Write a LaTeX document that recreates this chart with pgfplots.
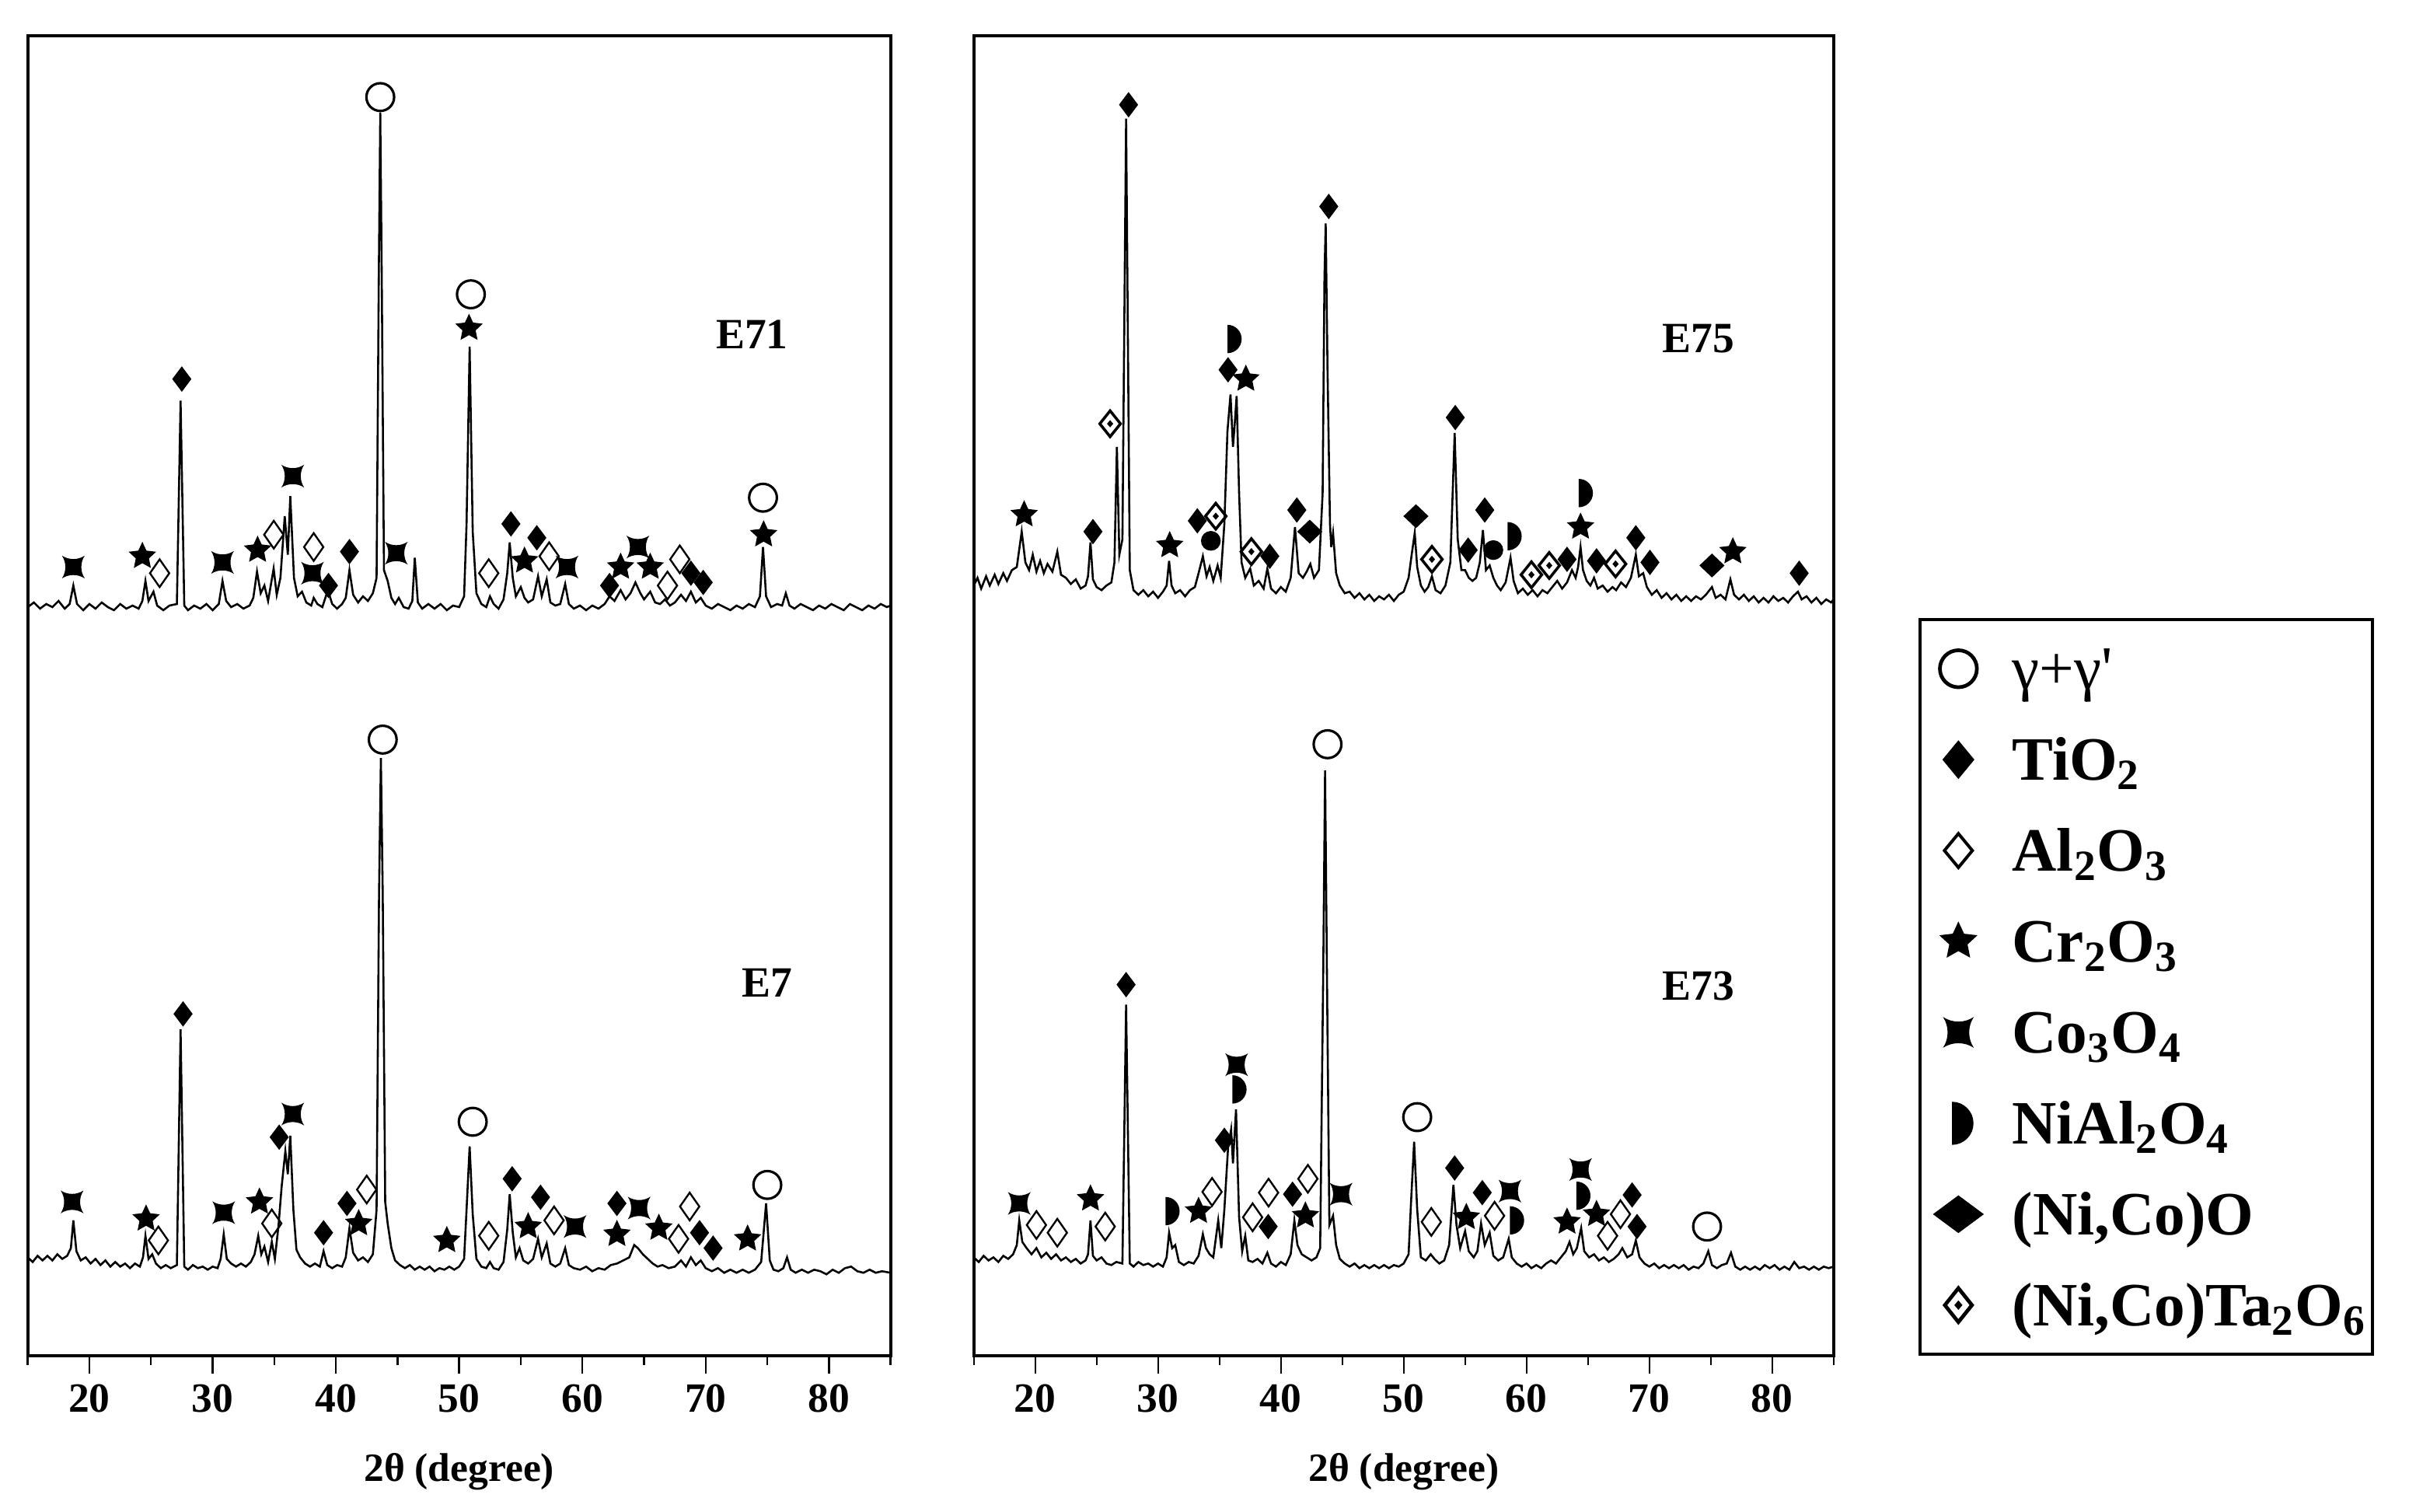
\documentclass[border=0pt]{standalone}
\usepackage{fontspec}
\setmainfont{Liberation Serif}
\usepackage{pgfplots}
\pgfplotsset{compat=1.18}

% filled five-point star
\pgfdeclareplotmark{fstar}{%
  \pgfpathmoveto{\pgfpointpolar{90}{\pgfplotmarksize}}%
  \pgfpathlineto{\pgfpointpolar{126}{0.48\pgfplotmarksize}}%
  \pgfpathlineto{\pgfpointpolar{162}{\pgfplotmarksize}}%
  \pgfpathlineto{\pgfpointpolar{198}{0.48\pgfplotmarksize}}%
  \pgfpathlineto{\pgfpointpolar{234}{\pgfplotmarksize}}%
  \pgfpathlineto{\pgfpointpolar{270}{0.48\pgfplotmarksize}}%
  \pgfpathlineto{\pgfpointpolar{306}{\pgfplotmarksize}}%
  \pgfpathlineto{\pgfpointpolar{342}{0.48\pgfplotmarksize}}%
  \pgfpathlineto{\pgfpointpolar{18}{\pgfplotmarksize}}%
  \pgfpathlineto{\pgfpointpolar{54}{0.48\pgfplotmarksize}}%
  \pgfpathclose\pgfusepathqfill}
% square with concave sides (Co3O4)
\pgfdeclareplotmark{coxo}{%
  \pgfpathmoveto{\pgfqpoint{-\pgfplotmarksize}{\pgfplotmarksize}}%
  \pgfpathcurveto{\pgfqpoint{-.4\pgfplotmarksize}{.6\pgfplotmarksize}}{\pgfqpoint{.4\pgfplotmarksize}{.6\pgfplotmarksize}}{\pgfqpoint{\pgfplotmarksize}{\pgfplotmarksize}}%
  \pgfpathcurveto{\pgfqpoint{.6\pgfplotmarksize}{.4\pgfplotmarksize}}{\pgfqpoint{.6\pgfplotmarksize}{-.4\pgfplotmarksize}}{\pgfqpoint{\pgfplotmarksize}{-\pgfplotmarksize}}%
  \pgfpathcurveto{\pgfqpoint{.4\pgfplotmarksize}{-.6\pgfplotmarksize}}{\pgfqpoint{-.4\pgfplotmarksize}{-.6\pgfplotmarksize}}{\pgfqpoint{-\pgfplotmarksize}{-\pgfplotmarksize}}%
  \pgfpathcurveto{\pgfqpoint{-.6\pgfplotmarksize}{-.4\pgfplotmarksize}}{\pgfqpoint{-.6\pgfplotmarksize}{.4\pgfplotmarksize}}{\pgfqpoint{-\pgfplotmarksize}{\pgfplotmarksize}}%
  \pgfpathclose\pgfusepathqfill}
% half disc (NiAl2O4)
\pgfdeclareplotmark{dhalf}{%
  \pgfpathmoveto{\pgfqpoint{-.3\pgfplotmarksize}{-\pgfplotmarksize}}%
  \pgfpatharc{-90}{90}{\pgfplotmarksize}%
  \pgfpathclose\pgfusepathqfill}
% diamond with a dot ((Ni,Co)Ta2O6)
\pgfdeclareplotmark{tado}{%
  \pgfpathmoveto{\pgfqpoint{0pt}{\pgfplotmarksize}}%
  \pgfpathlineto{\pgfqpoint{.8\pgfplotmarksize}{0pt}}%
  \pgfpathlineto{\pgfqpoint{0pt}{-\pgfplotmarksize}}%
  \pgfpathlineto{\pgfqpoint{-.8\pgfplotmarksize}{0pt}}%
  \pgfpathclose\pgfusepathqstroke
  \pgfpathmoveto{\pgfqpoint{0pt}{.28\pgfplotmarksize}}%
  \pgfpathlineto{\pgfqpoint{.24\pgfplotmarksize}{0pt}}%
  \pgfpathlineto{\pgfqpoint{0pt}{-.28\pgfplotmarksize}}%
  \pgfpathlineto{\pgfqpoint{-.24\pgfplotmarksize}{0pt}}%
  \pgfpathclose\pgfusepathqfill}

\tikzset{lab/.style={font=\fontsize{14}{16}\selectfont\bfseries}}
\pgfplotsset{
  xrd/.style={
    scale only axis, height=428.5pt,
    xmin=15, xmax=85, ymin=0, ymax=857,
    axis line style={line width=1pt},
    xtick={20,30,...,80}, minor xtick={15,25,...,85},
    xtick pos=bottom, tick align=outside, ytick=\empty,
    major tick length=5.8pt, minor tick length=3pt,
    tick style={line width=0.6pt, black},
    /pgf/number format/assume math mode=true,
    xticklabel style={font=\fontsize{13.5}{16}\selectfont\bfseries},
    xlabel={2θ (degree)},
    xlabel style={font=\fontsize{13}{15}\selectfont\bfseries,
      at={(axis description cs:0.5,0)}, anchor=center, yshift=-37.5pt},
  },
  trace/.style={black, line width=0.65pt, mark=none},
  gam/.style={only marks, mark=o, mark size=4.5pt, mark options={line width=0.8pt}},
  tio/.style={only marks, mark=diamond*, mark size=3.8pt},
  alo/.style={only marks, mark=diamond, mark size=4.5pt, mark options={xscale=0.93, line width=0.6pt}},
  cro/.style={only marks, mark=fstar, mark size=4.7pt},
  coo/.style={only marks, mark=coxo, mark size=3.7pt},
  nal/.style={only marks, mark=dhalf, mark size=4.6pt},
  nco/.style={only marks, mark=diamond*, mark size=3.6pt, mark options={xscale=1.4}},
  nta/.style={only marks, mark=tado, mark size=4.2pt, mark options={line width=0.9pt}},
  dot/.style={only marks, mark=*, mark size=3pt},
}

\begin{document}
\begin{tikzpicture}
\useasboundingbox (0pt,0pt) rectangle (784pt,490.5pt);

% ---------------- left panel: E71 (top) and E7 (bottom)
\begin{axis}[xrd, width=280pt, at={(9pt,50.5pt)}, anchor=south west]
\addplot[trace] coordinates {
(15,486)(15.5,489)(16,485)(16.5,488)(17,486)(17.5,490)(18,485)(18.4,488)(18.7,500)(19,488)(19.5,484)(20,488)(20.5,485)(21,489)(21.5,486)(22,484)(22.5,488)(23,485)(23.5,487)(24,485)(24.3,490)(24.55,503)(24.8,490)(25.2,496)(25.5,487)(26,484)(26.5,487)(27.1,488)(27.4,620)(27.7,487)(28,484)(28.5,487)(29,485)(29.5,488)(30,484)(30.5,488)(30.8,503)(31.1,490)(31.5,486)(32,488)(32.5,485)(33,487)(33.3,492)(33.6,509)(33.9,495)(34.2,500)(34.5,490)(34.95,511)(35.2,494)(35.5,505)(35.85,545)(36.1,520)(36.3,558)(36.6,505)(36.9,493)(37.25,496)(37.6,489)(38,487)(38.2,492)(38.5,488)(38.9,486)(39.35,497)(39.7,488)(40.1,485)(40.5,488)(40.8,492)(41.1,510)(41.4,494)(41.8,489)(42.2,493)(42.6,490)(43,495)(43.3,505)(43.48,700)(43.6,807)(43.72,700)(43.9,510)(44.2,503)(44.5,492)(44.8,488)(45.1,492)(45.5,486)(45.9,485)(46.2,490)(46.4,518)(46.65,489)(47,485)(47.5,488)(48,485)(48.5,488)(49,484)(49.5,487)(50,486)(50.4,493)(50.6,540)(50.85,655)(51.1,535)(51.4,495)(51.8,488)(52.2,486)(52.5,493)(52.8,488)(53.2,485)(53.6,491)(53.9,508)(54.1,528)(54.35,505)(54.6,493)(55,499)(55.3,492)(55.6,489)(56,491)(56.4,506)(56.7,493)(57.1,504)(57.4,489)(57.8,487)(58.2,488)(58.6,501)(58.9,488)(59.3,485)(59.8,487)(60.3,484)(60.8,487)(61.3,485)(61.8,488)(62.2,493)(62.6,490)(63.1,497)(63.5,491)(63.9,495)(64.3,502)(64.7,495)(65,491)(65.5,496)(65.9,489)(66.3,488)(66.7,491)(67.1,487)(67.5,489)(68,494)(68.4,490)(68.8,496)(69.2,489)(69.6,492)(70,487)(70.5,485)(71,488)(71.5,486)(72,484)(72.5,487)(73,485)(73.5,488)(74,486)(74.4,493)(74.65,525)(74.9,493)(75.3,486)(75.8,488)(76.2,487)(76.5,495)(76.8,487)(77.2,485)(77.7,488)(78.2,486)(78.7,484)(79.2,487)(79.7,485)(80.2,488)(80.7,486)(81.2,484)(81.7,488)(82.2,486)(82.7,484)(83.2,487)(83.7,485)(84.2,488)(84.7,486)(85,487)};
\addplot[trace] coordinates {
(15,64)(15.4,61)(15.8,65)(16.2,62)(16.6,65)(17,62)(17.4,66)(17.8,63)(18.2,65)(18.5,70)(18.7,88)(18.95,68)(19.3,62)(19.7,64)(20.1,60)(20.5,63)(20.9,59)(21.3,62)(21.7,58)(22.1,61)(22.5,58)(22.9,60)(23.3,57)(23.7,60)(24.1,58)(24.35,64)(24.55,78)(24.8,63)(25.1,66)(25.4,60)(25.8,57)(26.2,59)(26.6,57)(27.1,59)(27.4,212)(27.7,58)(28,56)(28.4,59)(28.8,57)(29.2,58)(29.6,56)(30,58)(30.4,57)(30.65,63)(30.9,79)(31.15,63)(31.5,60)(31.9,58)(32.3,60)(32.7,58)(33.1,61)(33.4,66)(33.7,78)(33.95,66)(34.2,71)(34.5,61)(34.8,74)(35.05,63)(35.35,85)(35.6,110)(35.9,133)(36.1,118)(36.3,143)(36.55,95)(36.8,69)(37.1,64)(37.5,60)(37.9,58)(38.3,60)(38.7,58)(39,68)(39.3,59)(39.7,57)(40.1,59)(40.5,58)(40.8,64)(41.1,83)(41.4,67)(41.8,62)(42.2,64)(42.6,61)(43,66)(43.3,95)(43.5,300)(43.65,388)(43.8,300)(44,100)(44.2,86)(44.5,70)(44.8,62)(45.2,59)(45.6,57)(46,59)(46.4,56)(46.8,58)(47.2,56)(47.6,58)(48,55)(48.4,57)(48.8,56)(49.2,58)(49.6,56)(50,58)(50.4,63)(50.6,95)(50.85,136)(51.1,92)(51.4,63)(51.8,58)(52.2,57)(52.5,61)(52.8,57)(53.2,56)(53.6,61)(53.9,82)(54.1,105)(54.35,80)(54.6,64)(54.9,70)(55.2,62)(55.6,60)(56,63)(56.4,76)(56.7,64)(57.1,73)(57.4,60)(57.8,58)(58.2,60)(58.6,70)(58.9,59)(59.3,57)(59.8,56)(60.3,58)(60.8,55)(61.3,57)(61.8,56)(62.3,59)(62.8,60)(63.3,62)(63.8,64)(64.2,72)(64.5,70)(64.9,66)(65.3,63)(65.7,60)(66.1,58)(66.5,59)(67,57)(67.5,58)(68,62)(68.4,58)(68.8,64)(69.2,59)(69.6,62)(70,57)(70.5,55)(71,57)(71.5,54)(72,56)(72.5,54)(73,56)(73.5,54)(74,56)(74.5,61)(74.9,99)(75.2,62)(75.5,56)(75.9,55)(76.3,57)(76.6,64)(76.9,56)(77.3,54)(77.8,56)(78.3,54)(78.8,56)(79.3,55)(79.8,53)(80.3,56)(80.8,54)(81.3,57)(81.8,58)(82.3,55)(82.8,54)(83.3,56)(83.8,54)(84.3,55)(85,54)};
% E71 phase marks
\addplot[gam] coordinates {(43.6,817)(50.95,689)(74.65,557)};
\addplot[tio] coordinates {(27.5,634)(39.4,500)(41.1,522)(54.2,540)(56.3,531)(62.2,500)(68.8,508)(69.8,502)};
\addplot[alo] coordinates {(25.7,508)(34.96,533)(38.2,525)(52.4,508)(57.3,519)(66.9,500)(67.9,517)};
\addplot[cro] coordinates {(24.3,519)(33.65,523)(50.8,667)(55.3,516)(63.1,512)(65.5,512)(74.7,533)};
\addplot[coo] coordinates {(18.7,512)(30.8,515)(36.5,571)(38.1,508)(44.9,521)(58.75,512)(64.5,525)};
% E7 phase marks
\addplot[gam] coordinates {(43.8,400)(51.1,152)(75.0,111)};
\addplot[tio] coordinates {(27.6,222)(35.4,142)(39.0,80)(40.9,99)(54.3,115)(56.6,103)(62.8,99)(69.5,80)(70.6,70)};
\addplot[alo] coordinates {(25.6,75)(34.8,86)(42.5,108)(52.4,78)(57.7,88)(67.8,76)(68.7,97)};
\addplot[cro] coordinates {(24.6,89)(33.8,100)(41.85,86)(49.0,75)(55.6,84)(62.8,79)(66.2,83)(73.4,76)};
\addplot[coo] coordinates {(18.6,100)(30.9,93)(36.5,157)(59.4,84)(64.6,96)};
\node[lab] at (axis cs:73.75,663) {E71};
\node[lab] at (axis cs:75.0,242) {E7};
\end{axis}

% ---------------- right panel: E75 (top) and E73 (bottom)
\begin{axis}[xrd, width=279pt, at={(316pt,50.5pt)}, anchor=south west,
  legend style={at={(1.0986,0)}, anchor=south west, draw=black, line width=1pt,
    inner xsep=2pt, inner ysep=1.25pt, row sep=0pt, column sep=6pt,
    font=\fontsize{20}{24}\selectfont\bfseries, nodes={inner sep=0pt},
    cells={anchor=base west}},
  legend image code/.code={\path[draw=none,fill=none] (0pt,-8.15pt) rectangle (22pt,21.35pt);
    \draw[#1] plot coordinates {(10.5pt,6.6pt)};},
]
\addplot[trace, forget plot] coordinates {
(15,500)(15.3,505)(15.6,498)(16,506)(16.3,500)(16.7,507)(17,501)(17.4,508)(17.7,503)(18.1,510)(18.5,512)(18.9,535)(19.2,515)(19.5,510)(19.8,520)(20.1,509)(20.4,516)(20.7,508)(21,514)(21.4,509)(21.8,522)(22.1,507)(22.5,505)(22.9,501)(23.3,504)(23.7,498)(24.1,500)(24.3,506)(24.5,528)(24.7,504)(25,499)(25.4,497)(25.8,500)(26.2,502)(26.45,515)(26.65,590)(26.85,520)(27.1,530)(27.4,803)(27.7,510)(28,497)(28.4,494)(28.8,497)(29.2,493)(29.6,496)(30,492)(30.4,496)(30.7,500)(30.9,516)(31.1,500)(31.4,495)(31.8,497)(32.2,493)(32.6,497)(33,499)(33.3,508)(33.65,519)(33.95,506)(34.2,512)(34.5,503)(34.85,513)(35.1,505)(35.4,540)(35.65,600)(35.9,624)(36.1,590)(36.2,600)(36.4,623)(36.6,560)(36.8,515)(37.1,505)(37.5,511)(37.8,500)(38.2,503)(38.6,498)(38.9,511)(39.2,498)(39.6,495)(40,499)(40.4,496)(40.8,505)(41.15,538)(41.45,508)(41.8,505)(42.1,509)(42.4,514)(42.7,505)(43.1,510)(43.4,560)(43.55,700)(43.65,735)(43.8,640)(44,540)(44.1,525)(44.25,534)(44.5,508)(44.8,500)(45.2,495)(45.6,496)(46,492)(46.4,495)(46.8,491)(47.2,494)(47.6,490)(48,493)(48.4,491)(48.8,494)(49.2,490)(49.6,494)(50,496)(50.4,505)(50.65,520)(50.9,534)(51.1,512)(51.4,500)(51.7,496)(52,499)(52.3,506)(52.6,497)(53,495)(53.4,500)(53.8,515)(54.15,599)(54.4,530)(54.7,510)(55,510)(55.3,505)(55.6,503)(55.9,505)(56.2,515)(56.45,536)(56.7,510)(57,513)(57.3,505)(57.6,500)(57.9,497)(58.3,502)(58.7,518)(58.95,503)(59.3,495)(59.7,498)(60.1,494)(60.5,497)(60.9,493)(61.3,497)(61.7,495)(62.1,499)(62.5,503)(62.9,498)(63.3,502)(63.7,510)(64,505)(64.2,512)(64.4,525)(64.6,510)(64.9,503)(65.2,500)(65.5,505)(65.8,498)(66.2,500)(66.6,496)(67,499)(67.3,497)(67.7,502)(68.1,499)(68.5,505)(68.9,520)(69.15,506)(69.5,508)(69.8,499)(70.2,494)(70.6,497)(71,492)(71.4,495)(71.8,491)(72.2,494)(72.6,490)(73,493)(73.4,490)(73.8,493)(74.2,491)(74.6,494)(75.1,499)(75.4,492)(75.8,494)(76.2,491)(76.6,504)(76.9,494)(77.3,491)(77.7,494)(78.1,490)(78.5,493)(78.9,489)(79.3,492)(79.7,489)(80.1,493)(80.5,490)(80.9,492)(81.3,489)(81.7,493)(82.1,496)(82.4,491)(82.8,493)(83.2,489)(83.6,492)(84,488)(84.4,491)(84.8,489)(85,491)};
\addplot[trace, forget plot] coordinates {
(15,64)(15.4,61)(15.8,65)(16.2,62)(16.6,64)(17,61)(17.4,65)(17.8,63)(18.2,66)(18.5,72)(18.7,88)(18.95,74)(19.3,70)(19.7,66)(20.1,70)(20.5,64)(20.9,67)(21.3,63)(21.7,66)(22.1,62)(22.5,64)(22.9,61)(23.3,63)(23.7,60)(24.1,62)(24.3,66)(24.5,88)(24.7,65)(25,62)(25.4,64)(25.8,60)(26.2,59)(26.6,61)(27.1,60)(27.4,228)(27.7,60)(28,58)(28.4,61)(28.8,59)(29.2,60)(29.6,58)(30,60)(30.4,58)(30.7,64)(30.9,80)(31.15,70)(31.4,72)(31.7,61)(32.1,59)(32.5,61)(32.9,60)(33.3,65)(33.65,79)(33.9,70)(34.2,66)(34.5,64)(34.9,88)(35.15,70)(35.4,95)(35.7,135)(35.95,147)(36.1,125)(36.35,160)(36.6,90)(36.85,68)(37.1,78)(37.35,62)(37.7,61)(38.1,63)(38.5,60)(38.9,67)(39.2,60)(39.6,58)(40,61)(40.4,59)(40.8,66)(41.1,88)(41.35,72)(41.7,66)(42.1,64)(42.5,62)(42.9,64)(43.2,70)(43.45,250)(43.6,380)(43.75,250)(43.95,85)(44.25,91)(44.5,72)(44.8,63)(45.2,60)(45.6,58)(46,60)(46.4,57)(46.8,59)(47.2,57)(47.6,59)(48,57)(48.4,59)(48.8,57)(49.2,59)(49.6,58)(50,60)(50.4,66)(50.6,100)(50.85,139)(51.1,95)(51.4,64)(51.8,62)(52.2,66)(52.5,63)(52.9,60)(53.3,62)(53.7,72)(54.05,111)(54.3,85)(54.6,70)(55,81)(55.3,68)(55.7,64)(56,68)(56.3,86)(56.6,72)(57,80)(57.3,65)(57.7,62)(58.1,64)(58.55,76)(58.8,64)(59.2,60)(59.6,58)(60,60)(60.4,57)(60.8,59)(61.2,57)(61.6,60)(62,62)(62.4,60)(62.8,64)(63.2,68)(63.5,74)(63.8,66)(64.1,70)(64.45,83)(64.7,68)(65.1,64)(65.5,66)(65.9,62)(66.3,64)(66.7,61)(67.1,63)(67.5,66)(67.8,70)(68.2,64)(68.6,66)(68.9,75)(69.2,64)(69.6,60)(70,58)(70.4,60)(70.8,57)(71.2,59)(71.6,57)(72,59)(72.4,57)(72.8,59)(73.2,56)(73.6,58)(74,57)(74.4,60)(74.8,68)(75.1,59)(75.5,57)(75.9,59)(76.3,60)(76.65,67)(77,58)(77.4,56)(77.8,58)(78.2,56)(78.6,58)(79,56)(79.4,59)(79.8,57)(80.2,59)(80.6,56)(81,58)(81.4,56)(81.8,61)(82.2,57)(82.6,58)(83,56)(83.4,58)(83.8,56)(84.2,58)(84.6,57)(85,58)};
% E75 phase marks
\addplot[tio, forget plot] coordinates {(24.7,535)(27.6,812)(33.2,542)(35.7,640)(39.1,519)(41.3,549)(43.9,746)(54.2,609)(55.25,523)(56.6,549)(63.3,517)(65.7,516)(68.9,531)(70.05,515)(82.2,508)};
\addplot[nco, forget plot] coordinates {(42.35,535)(51.0,545)(75.1,513)};
\addplot[nta, forget plot] coordinates {(26.1,605)(34.7,545)(37.6,522)(52.3,517)(60.4,507)(61.85,513)(67.25,514)};
\addplot[cro, forget plot] coordinates {(19.1,546)(30.95,526)(37.15,634)(64.4,538)(76.8,522)};
\addplot[nal, forget plot] coordinates {(36.0,660)(58.8,532)(64.6,560)};
\addplot[dot, forget plot] coordinates {(34.3,529)(57.3,523)};
% E73 phase marks
\addplot[gam, forget plot] coordinates {(43.8,397)(51.1,155)(74.7,84)};
\addplot[tio, forget plot] coordinates {(27.4,241)(35.4,140)(38.97,84)(40.95,105)(54.15,122)(56.4,106)(68.6,104.5)(69.0,84)};
\addplot[alo, forget plot] coordinates {(20.1,85)(21.8,80)(25.7,84)(34.4,106.5)(37.7,90)(39.0,106)(42.2,115)(52.25,87)(57.4,91)(66.6,78)(67.65,92)};
\addplot[cro, forget plot] coordinates {(24.5,102)(33.3,94)(42.0,91)(55.1,90)(63.3,87)(65.7,92)};
\addplot[coo, forget plot] coordinates {(18.7,99)(36.4,189)(44.9,105)(58.65,107)(64.4,121)};
\addplot[nal, forget plot] coordinates {(30.95,94)(36.4,173)(59.0,88)(64.4,104)};
\node[lab] at (axis cs:74.0,660) {E75};
\node[lab] at (axis cs:74.0,240) {E73};
% legend
\addlegendimage{only marks, mark=o, mark size=6pt, mark options={line width=1.2pt}}
\addlegendentry{\mdseries γ+γ\textquotesingle}
\addlegendimage{only marks, mark=diamond*, mark size=5.5pt, mark options={xscale=1.1}}
\addlegendentry{TiO\textsubscript{2}}
\addlegendimage{only marks, mark=diamond, mark size=5.5pt, mark options={xscale=1.1, line width=1pt}}
\addlegendentry{Al\textsubscript{2}O\textsubscript{3}}
\addlegendimage{only marks, mark=fstar, mark size=6.5pt}
\addlegendentry{Cr\textsubscript{2}O\textsubscript{3}}
\addlegendimage{only marks, mark=coxo, mark size=5pt}
\addlegendentry{Co\textsubscript{3}O\textsubscript{4}}
\addlegendimage{only marks, mark=dhalf, mark size=7pt}
\addlegendentry{NiAl\textsubscript{2}O\textsubscript{4}}
\addlegendimage{only marks, mark=diamond*, mark size=5.5pt, mark options={xscale=1.8}}
\addlegendentry{(Ni,Co)O}
\addlegendimage{only marks, mark=tado, mark size=5.5pt, mark options={line width=1.2pt}}
\addlegendentry{(Ni,Co)Ta\textsubscript{2}O\textsubscript{6}}
\end{axis}
\end{tikzpicture}
\end{document}
